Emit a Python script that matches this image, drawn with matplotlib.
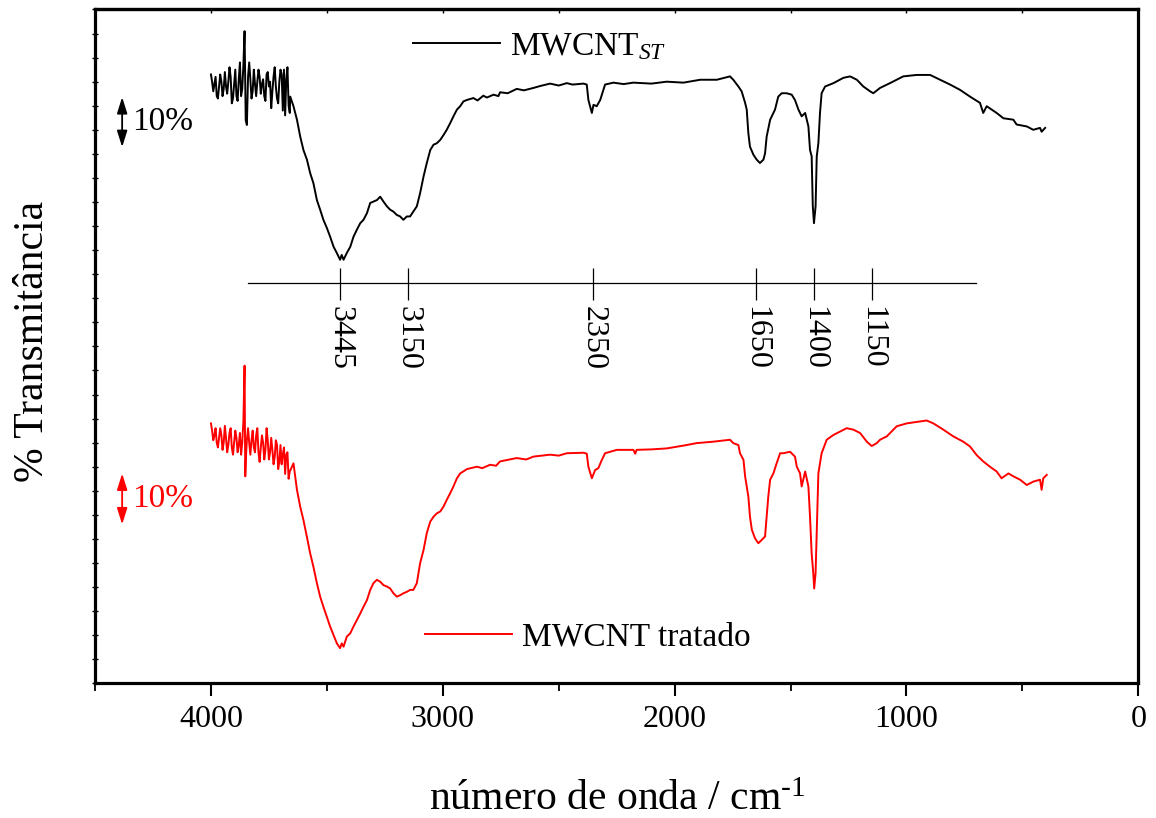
import matplotlib
matplotlib.use('Agg')
import matplotlib.pyplot as plt
from matplotlib.ticker import MultipleLocator, NullLocator
from matplotlib.patches import ArrowStyle

plt.rcParams['font.family'] = ['Liberation Serif', 'DejaVu Serif']
plt.rcParams['mathtext.fontset'] = 'custom'
plt.rcParams['mathtext.rm'] = 'Liberation Serif'
plt.rcParams['mathtext.it'] = 'Liberation Serif:italic'

# ---------------- data ----------------
wn_black = [4000, 3995, 3990, 3985, 3980, 3975, 3970, 3965, 3960, 3955,
            3950, 3945, 3940, 3935, 3930, 3925, 3920, 3915, 3910, 3905,
            3900, 3895, 3890, 3885, 3880, 3875, 3870, 3865, 3860, 3855,
            3850, 3845, 3840, 3835, 3830, 3825, 3820, 3815, 3810, 3805,
            3800, 3795, 3790, 3785, 3780, 3775, 3770, 3765, 3760, 3755,
            3750, 3745, 3740, 3735, 3730, 3725, 3720, 3715, 3710, 3705,
            3700, 3695, 3690, 3685, 3680, 3675, 3670, 3665, 3660, 3658,
            3644,
            3629, 3615, 3601, 3586, 3572, 3558, 3543, 3529, 3515, 3500,
            3486, 3471, 3457, 3443, 3436, 3428, 3414, 3399, 3385, 3371,
            3356, 3342, 3327, 3313, 3299, 3284, 3270, 3256, 3241, 3227,
            3213, 3198, 3184, 3170, 3155, 3141, 3127, 3112, 3098, 3083,
            3069, 3054, 3040, 3026, 3011, 2997, 2983, 2968, 2954, 2939,
            2925, 2911, 2896, 2868, 2850, 2825, 2810, 2781, 2760, 2753,
            2720, 2681, 2650, 2609, 2580, 2537, 2500, 2465, 2440, 2393,
            2379, 2372, 2357, 2350, 2336, 2321, 2300, 2264, 2220, 2178,
            2100, 2034, 1962, 1890, 1818, 1761, 1747, 1725, 1711, 1696,
            1689, 1682, 1675, 1660, 1646, 1632, 1617, 1610, 1603, 1588,
            1567, 1553, 1538, 1517, 1495, 1481, 1466, 1452, 1437, 1423,
            1416, 1409, 1404, 1399, 1392, 1387, 1380, 1373, 1366, 1351,
            1315, 1272, 1243, 1214, 1186, 1157, 1143, 1114, 1071, 1014,
            956, 898, 855, 812, 769, 726, 683, 669, 654, 611,
            582, 539, 525, 481, 453, 424, 417, 402]
t_black = [126.5, 125.0, 123.0, 124.5, 126.0, 122.0, 121.5, 124.0, 126.5, 125.0,
           122.0, 123.5, 127.0, 124.0, 122.5, 125.0, 128.0, 126.0, 120.5, 121.5,
           124.5, 127.5, 122.0, 121.0, 125.5, 129.0, 122.0, 123.5, 128.5, 135.5,
           117.0, 116.0, 126.0, 129.0, 125.5, 121.5, 123.0, 127.5, 124.5, 122.0,
           125.0, 127.5, 126.0, 122.5, 124.5, 125.5, 122.0, 121.0, 126.5, 127.0,
           124.0, 125.0, 119.5, 123.0, 126.0, 128.0, 124.0, 121.5, 120.5, 125.0,
           127.5, 126.5, 119.0, 127.5, 118.0, 125.5, 128.0, 120.0, 118.5, 121.9,
           119.9,
           117.1, 113.6, 110.8, 108.8, 106.0, 103.9, 100.4, 98.4, 96.3, 94.6,
           92.8, 90.7, 89.4, 88.0, 89.0, 88.0, 89.4, 90.7, 92.8, 94.2,
           95.6, 96.3, 97.7, 99.8, 100.1, 100.4, 101.1, 100.1, 99.1, 98.4,
           98.0, 97.3, 97.0, 96.3, 97.0, 97.0, 98.0, 99.1, 101.8, 105.3,
           108.1, 110.8, 111.9, 112.2, 112.9, 113.9, 115.0, 116.4, 117.8, 119.2,
           119.9, 120.9, 121.2, 121.6, 121.1, 122.1, 121.7, 122.3, 122.0, 122.8,
           122.6, 123.5, 123.2, 123.7, 124.1, 124.6, 124.2, 124.7, 124.4, 124.6,
           124.4, 121.2, 118.5, 120.2, 119.9, 121.2, 124.4, 124.8, 124.5, 124.8,
           124.6, 125.0, 124.8, 125.4, 125.4, 126.1, 125.4, 124.0, 123.0, 120.6,
           119.2, 114.3, 111.5, 109.8, 108.8, 108.1, 108.8, 110.1, 113.6, 117.1,
           119.2, 121.9, 122.6, 122.6, 122.3, 121.2, 119.2, 117.8, 118.5, 115.7,
           110.8, 109.5, 99.1, 95.6, 99.1, 109.5, 112.2, 118.5, 122.6, 124.0,
           124.7, 125.8, 126.1, 125.4, 124.0, 123.0, 122.6, 123.7, 124.7, 126.1,
           126.4, 126.4, 125.4, 124.4, 123.3, 121.9, 120.6, 118.5, 119.9, 118.5,
           117.4, 117.1, 116.1, 115.7, 115.0, 115.4, 114.6, 115.4]

wn_red = [4000, 3995, 3990, 3985, 3980, 3975, 3970, 3965, 3960, 3955,
          3950, 3945, 3940, 3935, 3930, 3925, 3920, 3915, 3910, 3905,
          3900, 3895, 3890, 3885, 3880, 3875, 3870, 3865, 3860, 3855,
          3852, 3848, 3845, 3840, 3835, 3830, 3825, 3820, 3815, 3810,
          3805, 3800, 3795, 3790, 3785, 3780, 3775, 3770, 3765, 3760,
          3755, 3750, 3745, 3740, 3735, 3730, 3725, 3720, 3715, 3710,
          3705, 3700, 3695, 3690, 3685, 3680, 3675, 3670, 3665, 3660,
          3644, 3629, 3615,
          3601, 3586, 3572, 3558, 3543, 3529, 3515, 3500, 3486, 3471,
          3457, 3443, 3436, 3428, 3414, 3399, 3385, 3371, 3356, 3342,
          3327, 3313, 3299, 3284, 3270, 3256, 3241, 3227, 3213, 3198,
          3184, 3170, 3155, 3141, 3127, 3112, 3098, 3083, 3069, 3054,
          3040, 3026, 3011, 2997, 2983, 2968, 2954, 2939, 2925, 2896,
          2853, 2830, 2796, 2770, 2753, 2681, 2640, 2609, 2537, 2500,
          2465, 2393, 2379, 2372, 2357, 2343, 2329, 2314, 2300, 2249,
          2178, 2170, 2164, 2100, 2034, 1960, 1905, 1833, 1761, 1747,
          1725, 1718, 1703, 1696, 1689, 1682, 1675, 1667, 1653, 1639,
          1624, 1610, 1603, 1596, 1588, 1574, 1560, 1545, 1531, 1502,
          1481, 1473, 1459, 1452, 1437, 1423, 1416, 1409, 1402, 1398,
          1392, 1385, 1380, 1366, 1344, 1315, 1258, 1229, 1200, 1171,
          1150, 1128, 1114, 1085, 1042, 999, 941, 913, 884, 841,
          798, 755, 726, 697, 669, 640, 611, 590, 560, 539,
          510, 481, 453, 424, 417, 410, 395]
t_red = [54.0, 52.5, 50.5, 51.5, 53.0, 50.0, 49.0, 51.0, 53.0, 51.5,
         48.5, 50.0, 53.5, 51.0, 48.0, 49.5, 52.0, 53.0, 49.0, 47.5,
         50.0, 52.5, 51.0, 48.0, 49.5, 52.0, 47.5, 50.0, 54.5, 66.0,
         43.0, 48.0, 50.5, 53.0, 50.0, 47.5, 50.5, 52.5, 49.0, 48.0,
         51.5, 53.0, 48.0, 46.0, 49.0, 51.5, 50.0, 46.5, 48.5, 53.0,
         50.5, 46.5, 48.0, 51.0, 48.5, 45.5, 47.0, 50.5, 49.5, 44.5,
         46.0, 49.5, 45.5, 47.5, 49.0, 43.5, 47.5, 48.0, 42.5, 44.0,
         45.7, 40.2, 36.7,
         33.9, 30.4, 27.0, 24.2, 20.8, 18.0, 15.9, 13.8, 11.8, 10.0,
         8.3, 7.3, 8.3, 7.6, 9.7, 10.4, 11.8, 13.1, 14.5, 15.9,
         17.3, 19.4, 20.8, 21.5, 21.1, 20.4, 20.1, 19.7, 18.7, 18.0,
         18.3, 18.7, 19.0, 19.4, 19.4, 20.8, 24.9, 27.7, 31.2, 33.6,
         34.6, 35.3, 35.7, 36.7, 38.1, 39.5, 40.9, 42.6, 43.6, 44.5,
         45.0, 44.7, 45.4, 45.2, 46.1, 46.8, 46.5, 47.1, 47.5, 47.3,
         47.8, 47.9, 47.7, 45.0, 42.6, 44.3, 44.7, 46.4, 47.8, 48.5,
         48.5, 47.7, 48.5, 48.6, 48.8, 49.4, 49.9, 50.2, 50.6, 49.9,
         49.5, 47.8, 46.4, 43.0, 40.9, 38.8, 34.6, 31.9, 30.1, 29.1,
         29.8, 30.5, 34.6, 38.8, 42.3, 43.6, 45.7, 47.8, 47.8, 48.1,
         47.1, 45.0, 43.6, 40.9, 44.0, 40.9, 34.6, 27.0, 22.9, 19.7,
         22.9, 34.6, 43.6, 47.8, 50.6, 51.6, 53.0, 52.7, 52.0, 50.2,
         49.3, 49.9, 50.6, 51.3, 53.4, 54.0, 54.4, 54.6, 54.0, 52.7,
         51.3, 50.2, 49.2, 47.4, 46.1, 45.0, 44.0, 42.6, 43.6, 43.0,
         42.3, 41.2, 41.9, 42.3, 40.2, 42.6, 43.3]

peak_positions = [3445, 3150, 2350, 1650, 1400, 1150]
peak_labels = ['3445', '3150', '2350', '1650', '1400', '1150']
x_ticks = [4000, 3000, 2000, 1000, 0]
x_tick_labels = ['4000', '3000', '2000', '1000', '0']
label_black = r'MWCNT$_{\mathit{ST}}$'
label_red = 'MWCNT tratado'

# ---------------- figure ----------------
fig = plt.figure(figsize=(11.56, 8.18), dpi=100)
ax = fig.add_axes([0.0822, 0.1647, 0.9025, 0.8237])

ax.plot(wn_black, t_black, color='black', lw=1.4)
ax.plot(wn_red, t_red, color='red', lw=1.4)

ax.set_xlim(4500, 0)
ax.set_ylim(0, 140)

ax.set_xticks(x_ticks)
ax.set_xticklabels(x_tick_labels)
ax.xaxis.set_minor_locator(MultipleLocator(500))
ax.tick_params(axis='x', which='major', direction='out', length=9, width=1.5,
               labelsize=23, pad=7)
ax.tick_params(axis='x', which='minor', direction='out', length=6, width=1.3)
ax.yaxis.set_major_locator(NullLocator())
ax.yaxis.set_minor_locator(MultipleLocator(5))
ax.tick_params(axis='y', which='minor', direction='inout', length=4, width=1)

top = ax.secondary_xaxis('top')
top.set_xticks(list(range(0, 4501, 500)))
top.tick_params(direction='in', length=3, width=1, labeltop=False)
top.spines['top'].set_linewidth(2.3)

for s in ax.spines.values():
    s.set_linewidth(2.3)

ax.set_xlabel(r'número de onda / cm$^{\text{-1}}$', fontsize=30)
ax.xaxis.set_label_coords(0.5, -0.173)
ax.xaxis.label.set_va('center')
ax.set_ylabel('% Transmitância', fontsize=30)
ax.yaxis.set_label_coords(-0.0594, 0.508)
ax.yaxis.label.set_va('center')

# peak marker bar
ax.plot([3840, 700], [83.2, 83.2], color='black', lw=0.9)
ax.vlines(peak_positions, 79.6, 86.3, color='black', lw=0.9)
for p, lab in zip(peak_positions, peak_labels):
    ax.text(p, 78.4, lab, rotation=270, ha='center', va='top', fontsize=23)

# 10% scale arrows
astyle = ArrowStyle('<|-|>', head_length=0.7, head_width=0.22)
ax.annotate('', xy=(4383, 121.8), xytext=(4383, 111.4),
            arrowprops=dict(arrowstyle=astyle, color='black', lw=1.3,
                            shrinkA=0, shrinkB=0, mutation_scale=14))
ax.text(4338, 116.6, '10%', ha='left', va='center', fontsize=24, color='black')
ax.annotate('', xy=(4383, 43.6), xytext=(4383, 33.0),
            arrowprops=dict(arrowstyle=astyle, color='red', lw=1.3,
                            shrinkA=0, shrinkB=0, mutation_scale=14))
ax.text(4338, 38.3, '10%', ha='left', va='center', fontsize=24, color='red')

# in-plot legends
ax.plot([3128, 2753], [133.1, 133.1], color='black', lw=1.4)
ax.text(2709, 130.6, label_black, ha='left', va='baseline', fontsize=24)
ax.plot([3076, 2701], [10.2, 10.2], color='red', lw=1.4)
ax.text(2658, 7.75, label_red, ha='left', va='baseline', fontsize=24)

fig.savefig('out.png', dpi=100)
